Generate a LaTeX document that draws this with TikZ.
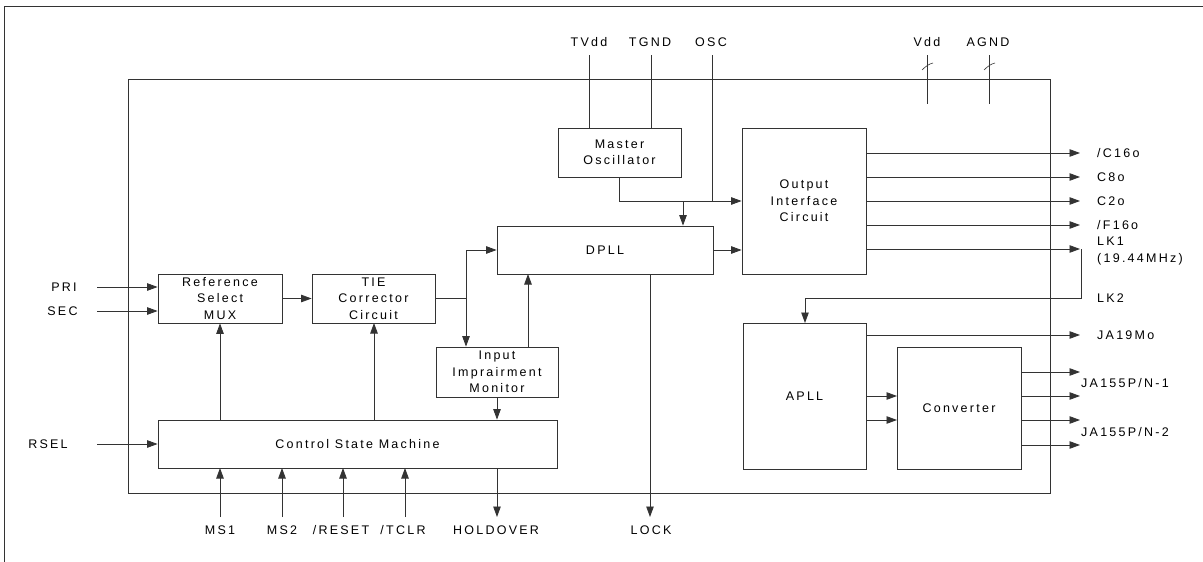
\documentclass[tikz,border=0pt]{standalone}
\usepackage{fontspec}
\setmainfont{Liberation Sans}[LetterSpace=18]
\usetikzlibrary{arrows.meta}
\tikzset{
  ln/.style={draw=black!80,line width=0.8pt},
  arr/.style={ln,-{Triangle[length=10.5pt,width=7.5pt]}},
  blk/.style={ln,rectangle,align=center,inner sep=0pt,font=\fontsize{12.5}{16.5}\selectfont},
  lbl/.style={inner sep=0pt,font=\fontsize{12.5}{16.5}\selectfont},
}
\begin{document}
\begin{tikzpicture}[x=1pt,y=-1pt]
\useasboundingbox (0,0) rectangle (1203,562);
% outer frame (top & left)
\draw[ln] (4,562) -- (4,6) -- (1203,6);
% chip
\node[ln,rectangle,minimum width=922pt,minimum height=414pt,inner sep=0pt] (chip) at (589,286) {};
% blocks
\node[blk,minimum width=124pt,minimum height=49pt] (mux) at (220,298.5) {Reference\\Select\\MUX};
\node[blk,minimum width=123pt,minimum height=49pt] (tie) at (373.5,298.5) {TIE\\Corrector\\Circuit};
\node[blk,minimum width=122pt,minimum height=50pt] (iim) at (497,372) {Input\\Imprairment\\Monitor};
\node[blk,minimum width=216pt,minimum height=48pt] (dpll) at (605,250) {DPLL};
\node[blk,minimum width=123pt,minimum height=49pt] (mosc) at (619.5,152.5) {Master\\Oscillator};
\node[blk,minimum width=124pt,minimum height=146pt] (oic) at (804,201) {Output\\Interface\\Circuit};
\node[blk,minimum width=123pt,minimum height=146pt] (apll) at (804.5,396) {APLL};
\node[blk,minimum width=124pt,minimum height=122pt] (conv) at (959,408) {Converter};
\node[blk,minimum width=399pt,minimum height=48pt] (csm) at (357.5,444) {Control State Machine};
% left labels
\node[lbl] (pri) at (64,287) {PRI};
\node[lbl] (sec) at (62.5,311) {SEC};
\node[lbl] (rsel) at (48,444) {RSEL};
\coordinate (priE) at (97,287);
\coordinate (secE) at (97,311);
\coordinate (rselE) at (97,444);
\draw[arr] (priE) -- (priE -| mux.west);
\draw[arr] (secE) -- (secE -| mux.west);
\draw[arr] (rselE) -- (rselE -| csm.west);
% top labels
\node[lbl] (tvdd) at (589,42) {TVdd};
\node[lbl] (tgnd) at (650,42) {TGND};
\node[lbl] (osc) at (711,42) {OSC};
\node[lbl] (vdd) at (927,42) {Vdd};
\node[lbl] (agnd) at (988,42) {AGND};
\draw[ln] (589,55) -- (589,128);
\draw[ln] (651,55) -- (651,128);
\coordinate (oscJ) at (712,201);
\draw[ln] (712,55) -- (oscJ);
\draw[ln] (927,55) -- (927,104);
\draw[ln] (989,55) -- (989,104);
\draw[ln,line width=0.6pt] (922,70) .. controls (926,66) and (929,64) .. (933,63);
\draw[ln,line width=0.6pt] (984,70) .. controls (988,66) and (991,64) .. (995,63);
% master osc to dpll/oic
\coordinate (moJ) at (683,201);
\draw[arr] (619,177) -- (619,201) -- (oscJ -| oic.west);
\draw[arr] (moJ) -- (moJ |- dpll.north);
% mux -> tie
\draw[arr] (mux.east) -- (tie.west);
% tie -> dpll / iim
\coordinate (tJ) at (466,298.5);
\coordinate (tT) at (466,250);
\draw[ln] (tie.east) -- (tJ);
\draw[arr] (tT) -- (tT |- iim.north);
\draw[arr] (tT) -- (dpll.west);
% iim
\draw[arr] (528,347) -- (528,274);
\draw[arr] (iim.south) -- (iim.south |- csm.north);
% csm up arrows
\draw[arr] (mux.south |- csm.north) -- (mux.south);
\draw[arr] (374,420) -- (374,323);
% dpll -> oic
\draw[arr] (dpll.east) -- (dpll.east -| oic.west);
% oic outputs
\foreach \y/\n/\t in {153/c16/{/C16o},177/c8/{C8o},201/c2/{C2o},225/f16/{/F16o}}{
  \node[lbl,anchor=west] (\n) at (1097,\y) {\t};
  \draw[arr] (866,\y) -- (1080,\y);
}
\node[lbl,anchor=west] (lk1) at (1097,241) {LK1};
\node[lbl,anchor=west] (lk1b) at (1097,259) {(19.44MHz)};
\node[lbl,anchor=west] (lk2) at (1097,298) {LK2};
\draw[arr] (866,249) -- (1080,249);
\draw[arr] (1081,249) -- (1081,298) -- (805,298) -- (805,323);
% apll
\node[lbl,anchor=west] (ja19) at (1097,335) {JA19Mo};
\draw[arr] (866,335) -- (1080,335);
\draw[arr] (866,396) -- (897,396);
\draw[arr] (866,420) -- (897,420);
\node[lbl,anchor=west] (ja1) at (1081,383) {JA155P/N-1};
\node[lbl,anchor=west] (ja2) at (1081,432) {JA155P/N-2};
\foreach \y in {372,396,420,445}{\draw[arr] (1021,\y) -- (1080,\y);}
% bottom
\foreach \x/\n/\t in {220/ms1/MS1,282/ms2/MS2,341/rst/{/RESET},403/tclr/{/TCLR}}{
  \node[lbl] (\n) at (\x,530) {\t};
}
\draw[arr] (220,517) -- (220,468);
\draw[arr] (282,517) -- (282,468);
\draw[arr] (343,517) -- (343,468);
\draw[arr] (405,517) -- (405,468);
\node[lbl] (hold) at (496,530) {HOLDOVER};
\node[lbl] (lock) at (651,530) {LOCK};
\draw[arr] (497,468) -- (497,517);
\draw[arr] (650,274) -- (650,517);
\end{tikzpicture}
\end{document}
